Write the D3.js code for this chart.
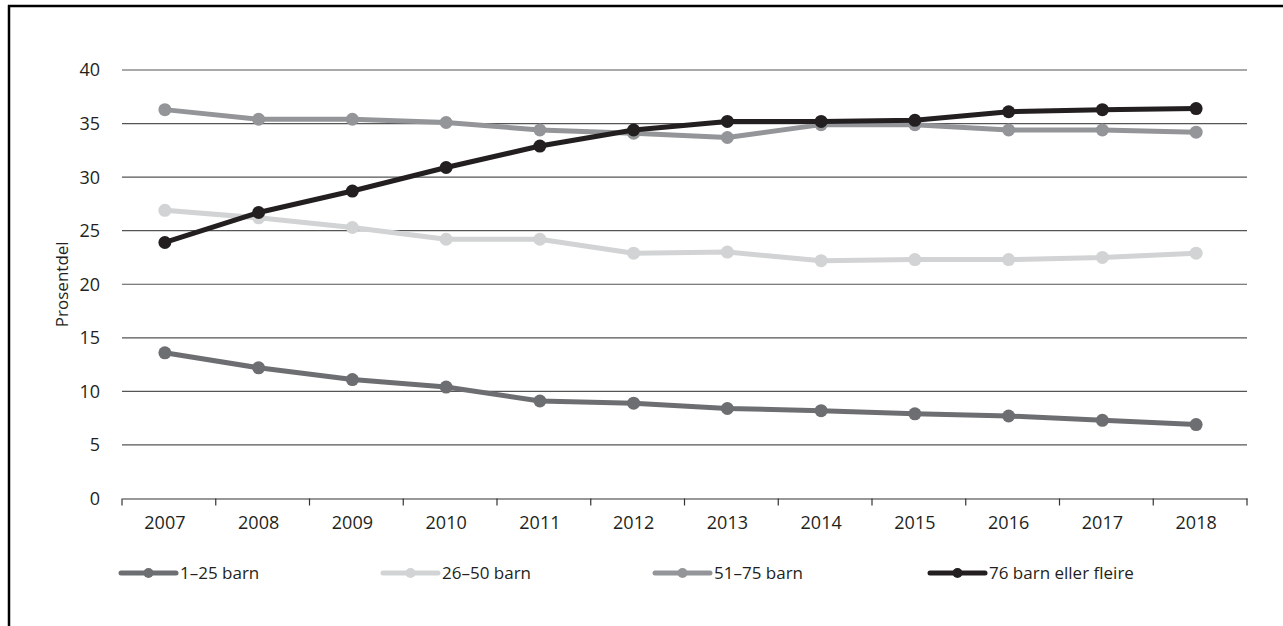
<!DOCTYPE html>
<html>
<head>
<meta charset="utf-8">
<script src="https://cdn.jsdelivr.net/npm/d3@7"></script>
<style>
  html, body { margin: 0; padding: 0; background: #fff; }
  svg { display: block; font-family: "Open Sans", sans-serif; }
</style>
</head>
<body>
<svg id="chart" width="1283" height="626"></svg>
<script>
const years = ["2007","2008","2009","2010","2011","2012","2013","2014","2015","2016","2017","2018"];
const yTicks = [0,5,10,15,20,25,30,35,40];
const seriesNames = ["1–25 barn", "26–50 barn", "51–75 barn", "76 barn eller fleire"];
const seriesColors = ["#6d6e71", "#d1d3d4", "#939598", "#231f20"];
const s1_25  = [13.6, 12.2, 11.1, 10.4, 9.1, 8.9, 8.4, 8.2, 7.9, 7.7, 7.3, 6.9];
const s26_50 = [26.9, 26.2, 25.3, 24.2, 24.2, 22.9, 23.0, 22.2, 22.3, 22.3, 22.5, 22.9];
const s51_75 = [36.3, 35.4, 35.4, 35.1, 34.4, 34.1, 33.7, 34.9, 34.9, 34.4, 34.4, 34.2];
const s76    = [23.9, 26.7, 28.7, 30.9, 32.9, 34.4, 35.2, 35.2, 35.3, 36.1, 36.3, 36.4];
const allSeries = [s1_25, s26_50, s51_75, s76];

const svg = d3.select("#chart");

// frame lines
svg.append("line").attr("x1", 9).attr("x2", 9).attr("y1", 5).attr("y2", 626)
  .attr("stroke", "#000").attr("stroke-width", 2.5);
svg.append("line").attr("x1", 8).attr("x2", 1283).attr("y1", 6).attr("y2", 6)
  .attr("stroke", "#000").attr("stroke-width", 2.5);

const mLeft = 122, mRight = 1247, mTop = 70, mBottom = 498.5;
const x = d3.scaleBand().domain(years).range([mLeft, mRight]);
const y = d3.scaleLinear().domain([0, 40]).range([mBottom, mTop]);
const px = d => x(d) + x.bandwidth() / 2 - 4;

// gridlines
svg.append("g").selectAll("line").data(yTicks.filter(t => t > 0)).join("line")
  .attr("x1", mLeft).attr("x2", mRight)
  .attr("y1", d => y(d)).attr("y2", d => y(d))
  .attr("stroke", "#555").attr("stroke-width", 1.2);

// y tick labels
svg.append("g").selectAll("text").data(yTicks).join("text")
  .attr("x", 100).attr("y", d => y(d)).attr("dy", "0.36em")
  .attr("text-anchor", "end").attr("font-size", 18).attr("fill", "#231f20")
  .text(d => d);

// y title
svg.append("text")
  .attr("transform", `translate(68,${(mTop + mBottom) / 2}) rotate(-90)`)
  .attr("text-anchor", "middle").attr("font-size", 17).attr("fill", "#231f20")
  .text("Prosentdel");

// x axis
const xAxis = svg.append("g").attr("transform", `translate(0,${mBottom})`)
  .call(d3.axisBottom(x).tickSize(0).tickPadding(0).tickSizeOuter(0));
xAxis.select(".domain").attr("stroke", "#333").attr("stroke-width", 1.2);
xAxis.selectAll(".tick text").attr("font-size", 18).attr("fill", "#231f20")
  .attr("font-family", "Open Sans, sans-serif")
  .attr("x", -4).attr("y", 18).attr("dy", "0.71em");
// boundary ticks
const bounds = years.map(d => x(d)).concat([mRight]);
svg.append("g").selectAll("line").data(bounds).join("line")
  .attr("x1", d => d).attr("x2", d => d).attr("y1", mBottom).attr("y2", mBottom + 7)
  .attr("stroke", "#333").attr("stroke-width", 1.2);

// series
const line = d3.line().x((d, i) => px(years[i])).y(d => y(d));
allSeries.forEach((vals, k) => {
  const g = svg.append("g");
  g.append("path").datum(vals).attr("d", line)
    .attr("fill", "none").attr("stroke", seriesColors[k]).attr("stroke-width", 5)
    .attr("stroke-linejoin", "round");
  g.selectAll("circle").data(vals).join("circle")
    .attr("cx", (d, i) => px(years[i])).attr("cy", d => y(d)).attr("r", 6.5)
    .attr("fill", seriesColors[k]);
});

// legend
const legendX = [121, 383, 655, 930];
const legendY = 573;
seriesNames.forEach((name, k) => {
  const g = svg.append("g").attr("transform", `translate(${legendX[k]},${legendY})`);
  g.append("line").attr("x1", 0).attr("x2", 55).attr("y1", 0).attr("y2", 0)
    .attr("stroke", seriesColors[k]).attr("stroke-width", 5).attr("stroke-linecap", "round");
  g.append("circle").attr("cx", 27.5).attr("cy", 0).attr("r", 5).attr("fill", seriesColors[k]);
  g.append("text").attr("x", 59).attr("y", 0).attr("dy", "0.36em")
    .attr("font-size", 17).attr("fill", "#231f20").text(name);
});
</script>
</body>
</html>
